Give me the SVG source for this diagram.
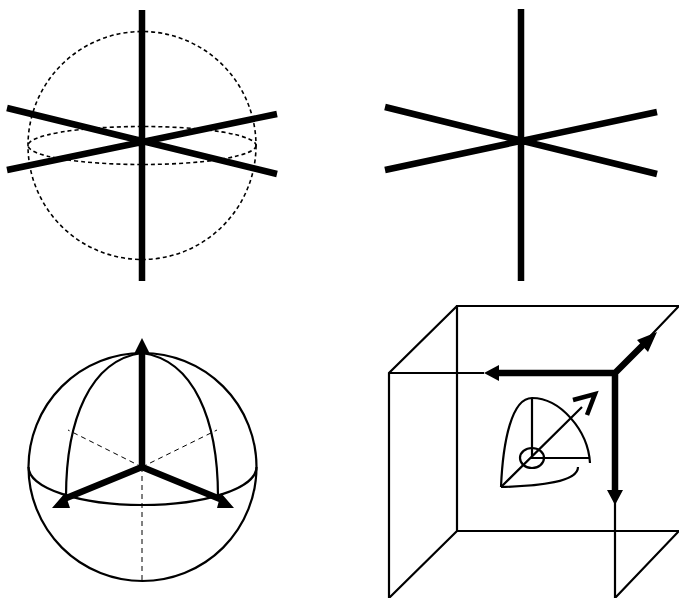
<svg xmlns="http://www.w3.org/2000/svg" width="679" height="598" viewBox="0 0 679 598">
<style>
.t{fill:none;stroke:#000;stroke-width:6.5}
.m{fill:none;stroke:#000;stroke-width:2.200}
.d{fill:none;stroke:#000;stroke-width:1.600;stroke-dasharray:4 3}
.f{fill:none;stroke:#000;stroke-width:1;stroke-dasharray:5 4}
.h{fill:#000;stroke:none}
</style>
<rect width="679" height="598" fill="#fff"/>
<g id="sphere-axes">
<circle class="d" cx="142" cy="145.500" r="114"/>
<ellipse class="d" cx="142" cy="145.500" rx="114" ry="19"/>
<path class="t" d="M142,10V281M7,108L277,174M7,170L277,114"/>
</g>
<g id="plain-axes">
<path class="t" d="M521,9V281M385,107L657,174M385,170L657,112"/>
</g>
<g id="sphere-arrows">
<circle class="m" cx="142.500" cy="467" r="114"/>
<path class="m" d="M28.500,467A114,38 0 0 0 256.500,467"/>
<path class="m" d="M66,497C66,420 90,360 142,353M218,497C218,420 194,360 142,353"/>
<path class="f" d="M142,467L68,430M142,467L217,430M142,467V580"/>
<path class="t" d="M142,353V467M142,467L64,499M142,467L220,499"/>
<path class="h" d="M142,338L150,354H134ZM52,508L65,493L70,508ZM217,508L221,493L234,508Z"/>
</g>
<g id="cube">
<path class="m" d="M679,306H457V531H679M457,306L389,373V598M457,531L389,598M389,373H484M615,373V598M615,373L679,306M615,598L679,531"/>
<path class="t" d="M615,373H495M615,373V492M615,373L648,340"/>
<path class="h" d="M484,373L499,365V381ZM615,505L607,490H623ZM657,332L637,340L648,352Z"/>
</g>
<g id="small-axes">
<ellipse class="m" cx="532" cy="458" rx="12" ry="10"/>
<path class="m" d="M532,398V458H590M501,487L582,407"/>
<path class="m" d="M501,487C503,440 512,398 532,398C560,398 588,430 590,463M501,487C540,486 578,482 578,467"/>
<path fill="none" stroke="#000" stroke-width="4.500" d="M573,400L595,394L587,415"/>
</g>
</svg>
